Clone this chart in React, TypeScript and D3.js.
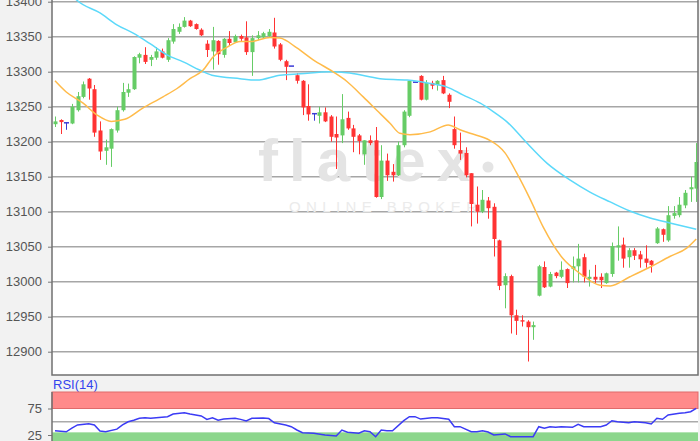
import { useRef, useEffect } from "react";
import * as d3 from "d3";

// open, high, low, close
type Candle = [number, number, number, number];

const candles: Candle[] = [
  [13225, 13236, 13221, 13229], [13231, 13232, 13211, 13228], [13227, 13227, 13217, 13227],
  [13226, 13254, 13225, 13250], [13245, 13271, 13243, 13265], [13264, 13286, 13262, 13282],
  [13290, 13291, 13260, 13276], [13275, 13281, 13207, 13213], [13216, 13229, 13174, 13186],
  [13187, 13203, 13167, 13192], [13190, 13219, 13164, 13218], [13216, 13250, 13213, 13245],
  [13245, 13284, 13243, 13271], [13270, 13283, 13264, 13275], [13275, 13322, 13274, 13321],
  [13320, 13327, 13312, 13325], [13324, 13335, 13311, 13314], [13317, 13324, 13308, 13321],
  [13320, 13335, 13317, 13329], [13329, 13333, 13319, 13320], [13317, 13348, 13314, 13345],
  [13343, 13368, 13340, 13361], [13357, 13369, 13354, 13364], [13364, 13378, 13363, 13373],
  [13373, 13374, 13364, 13365], [13368, 13369, 13360, 13361], [13360, 13362, 13351, 13352],
  [13340, 13345, 13321, 13331], [13329, 13364, 13303, 13345], [13344, 13345, 13310, 13325],
  [13324, 13348, 13320, 13347], [13347, 13358, 13338, 13341], [13342, 13353, 13341, 13351],
  [13351, 13353, 13344, 13347], [13349, 13372, 13324, 13328], [13328, 13352, 13294, 13348],
  [13348, 13358, 13345, 13352], [13349, 13357, 13347, 13355], [13351, 13361, 13349, 13357],
  [13356, 13377, 13333, 13336], [13339, 13341, 13315, 13317], [13315, 13317, 13288, 13307],
  [13308, 13308, 13308, 13308], [13295, 13298, 13283, 13287], [13287, 13288, 13238, 13249],
  [13251, 13282, 13230, 13239], [13240, 13240, 13230, 13240], [13237, 13250, 13226, 13242],
  [13242, 13249, 13228, 13229], [13236, 13238, 13200, 13207], [13211, 13236, 13161, 13206],
  [13209, 13268, 13198, 13232], [13234, 13243, 13217, 13219], [13219, 13224, 13185, 13207],
  [13209, 13211, 13182, 13201], [13182, 13202, 13167, 13202], [13202, 13209, 13195, 13198],
  [13202, 13221, 13120, 13121], [13121, 13195, 13118, 13173], [13173, 13183, 13144, 13152],
  [13157, 13168, 13143, 13152], [13152, 13200, 13151, 13195], [13195, 13245, 13192, 13243],
  [13237, 13288, 13235, 13287], [13285, 13285, 13285, 13285], [13294, 13295, 13259, 13260],
  [13260, 13288, 13259, 13284], [13284, 13287, 13275, 13280], [13281, 13288, 13273, 13287],
  [13288, 13294, 13268, 13269], [13267, 13269, 13248, 13257], [13218, 13236, 13190, 13195],
  [13188, 13213, 13174, 13183], [13184, 13192, 13149, 13152], [13155, 13155, 13079, 13111],
  [13110, 13136, 13083, 13100], [13100, 13131, 13098, 13117], [13116, 13121, 13090, 13105],
  [13107, 13112, 13036, 13061], [13059, 13060, 12988, 12994], [12995, 13012, 12962, 13008],
  [13008, 13010, 12926, 12952], [12952, 12960, 12924, 12944], [12945, 12952, 12936, 12943],
  [12943, 12945, 12886, 12935], [12935, 12943, 12917, 12938], [12980, 13024, 12979, 13022],
  [13021, 13029, 12991, 12992], [12993, 13014, 12992, 13011], [13013, 13014, 13005, 13008],
  [13007, 13029, 13005, 13017], [13018, 13019, 12991, 12998], [13018, 13036, 12999, 13022],
  [13022, 13054, 12999, 13033], [13035, 13040, 12999, 13007], [13004, 13017, 12993, 13007],
  [13007, 13024, 12998, 13003], [13007, 13012, 12991, 13002], [12998, 13013, 12997, 13012],
  [13011, 13056, 13007, 13051], [13049, 13079, 13030, 13052], [13053, 13063, 13020, 13033],
  [13035, 13048, 13020, 13045], [13045, 13048, 13031, 13037], [13039, 13044, 13020, 13032],
  [13033, 13052, 13020, 13027], [13030, 13031, 13013, 13024], [13055, 13078, 13054, 13076],
  [13075, 13076, 13057, 13067], [13059, 13108, 13057, 13095], [13094, 13108, 13090, 13098],
  [13095, 13121, 13092, 13110], [13109, 13131, 13105, 13127], [13132, 13150, 13114, 13135],
  [13133, 13198, 13114, 13171],
];

// [candle index, value]
const maShort: [number, number][] = [
  [0, 13287], [2, 13271], [5, 13255], [7.5, 13238], [10, 13229], [12.4, 13232], [15.6, 13248],
  [19.2, 13264], [21.7, 13276], [24, 13290], [26.3, 13302], [28.1, 13321], [30.6, 13335],
  [32.9, 13343], [34.7, 13343], [38.2, 13349], [40, 13348], [43, 13334], [45.9, 13317],
  [49.4, 13300], [51.9, 13286], [54.8, 13264], [57.2, 13245], [59.6, 13226], [61.3, 13212],
  [63.1, 13210], [66.7, 13214], [69.9, 13224], [72, 13217], [73.8, 13212], [77.3, 13202],
  [80, 13184], [82.1, 13155], [84.4, 13119], [86.8, 13078], [90.3, 13033], [93.3, 13012],
  [96.9, 12995], [98.7, 12994], [102.2, 13007], [105.8, 13021], [109.3, 13036], [112.3, 13048],
  [114, 13061],
];

const maLong: [number, number][] = [
  [2.5, 13414], [3.9, 13402], [8, 13384], [11, 13367], [13.9, 13355], [16.9, 13340],
  [19.9, 13324], [22.8, 13314], [25.8, 13302], [27.9, 13295], [32.9, 13290], [35.9, 13288],
  [40, 13295], [43.6, 13297], [48.9, 13300], [52.4, 13298], [57.8, 13290], [62.6, 13288],
  [66.7, 13283], [69.7, 13278], [72.5, 13267], [75.6, 13255], [77.9, 13243], [80.4, 13228],
  [83.9, 13198], [87.5, 13169], [91.6, 13145], [95.1, 13128], [98.7, 13114], [102.2, 13101],
  [105.8, 13091], [109.3, 13084], [114, 13075],
];

const rsi: [number, number][] = [
  [0, 33], [2, 31], [3, 38], [4, 44], [6, 46], [7, 44], [8, 32.5], [9, 31], [11, 36],
  [12, 44], [13, 50], [14, 53], [15, 56.5], [16, 57.5], [17, 56.5], [19, 58.5], [20, 59.5],
  [21, 64.5], [23, 67], [24, 64.5], [26, 61], [27, 54.5], [28, 57.5], [29, 53], [30, 55],
  [32, 56.5], [33, 54.5], [34, 51.5], [35, 56.5], [37, 57], [38, 56], [39, 48], [41, 44],
  [42, 40.7], [43, 34.4], [44, 29.4], [46, 28.2], [48, 25], [50, 23], [51, 34.4], [52, 30.1],
  [54, 28.2], [55, 33], [56, 31.3], [57, 21.8], [58, 34.4], [59, 33.1], [60, 33], [62, 52],
  [63, 59.6], [64, 59.6], [65, 55], [67, 57.6], [68, 57.6], [70, 54.6], [71, 40.7], [72, 40.7],
  [74, 31.3], [75, 31], [76, 33], [77, 30.7], [78, 25], [80, 27], [81, 21.8], [83, 21.8],
  [85, 21.8], [86, 40.7], [87, 37.6], [88, 40.7], [89, 39.5], [90, 40.7], [92, 39.5],
  [93, 45.2], [94, 40.7], [95, 40.5], [96, 40.7], [97, 40.7], [98, 43.9], [99, 52], [100, 50],
  [102, 48.2], [103, 50], [105, 48.2], [106, 45.8], [107, 56.5], [108, 54.6], [109, 62.7],
  [111, 65.9], [112, 67.1], [113, 69], [114, 75.4],
];

const yTicks = [12900, 12950, 13000, 13050, 13100, 13150, 13200, 13250, 13300, 13350, 13400];
const rsiTicks = [25, 75];
const rsiOverbought = 75;
const rsiOversold = 30;
const rsiMid = 50;

export default function App() {
  const svgRef = useRef<SVGSVGElement>(null);

  useEffect(() => {
    const svg = d3.select(svgRef.current);
    const width = 700;
    const height = 441;
    const left = 52;
    const right = 698;
    const plotBottom = 375;
    const rsiTop = 392;
    const font = "'Liberation Sans', Arial, sans-serif";

    svg.selectAll("*").remove();
    svg.attr("width", width).attr("height", height);

    // Escalas
    const x = d3.scaleLinear().domain([0, candles.length - 1]).range([55, 696.25]);
    const y = d3.scaleLinear().domain([12900, 13400]).range([351.7, 1.7]);
    const ry = d3.scaleLinear().domain([25, 75]).range([435, 408.5]);

    svg.append("rect").attr("width", width).attr("height", height).attr("fill", "#f2f2f2");

    // Panel principal
    svg.append("rect")
      .attr("x", left).attr("y", 0)
      .attr("width", right - left).attr("height", plotBottom)
      .attr("fill", "#ffffff");

    svg.append("clipPath").attr("id", "plotClip")
      .append("rect")
      .attr("x", left).attr("y", 0)
      .attr("width", right - left).attr("height", plotBottom);

    // Cuadrícula
    svg.append("g")
      .selectAll("line")
      .data(yTicks)
      .join("line")
      .attr("x1", left).attr("x2", right)
      .attr("y1", (d) => y(d)).attr("y2", (d) => y(d))
      .attr("stroke", "#a6a6a6")
      .attr("stroke-width", 1.5);

    // Marca de agua
    const wm = svg.append("g").attr("pointer-events", "none");
    wm.append("text")
      .attr("x", 258).attr("y", 181)
      .attr("textLength", 212)
      .attr("lengthAdjust", "spacing")
      .attr("font-family", font)
      .attr("font-weight", "bold")
      .attr("font-size", 60)
      .attr("fill", "#e4e4e4")
      .text("flatex");
    wm.append("circle").attr("cx", 488).attr("cy", 167).attr("r", 5.5).attr("fill", "#e4e4e4");
    wm.append("text")
      .attr("x", 289).attr("y", 212)
      .attr("textLength", 188)
      .attr("lengthAdjust", "spacing")
      .attr("font-family", font)
      .attr("font-size", 15)
      .attr("fill", "#ebebeb")
      .text("ONLINE BROKER");

    const plot = svg.append("g").attr("clip-path", "url(#plotClip)");

    // Velas
    candles.forEach(([o, h, l, c], i) => {
      const cx = Math.round(x(i));
      const color = c > o ? "#66cc66" : c < o ? "#ff3333" : "#3a3ad6";
      plot.append("line")
        .attr("x1", cx + 0.5).attr("x2", cx + 0.5)
        .attr("y1", y(h)).attr("y2", y(l))
        .attr("stroke", color)
        .attr("stroke-width", 1);
      if (c === o) {
        plot.append("line")
          .attr("x1", cx - 2).attr("x2", cx + 3)
          .attr("y1", y(o)).attr("y2", y(o))
          .attr("stroke", color)
          .attr("stroke-width", 1.5);
      } else {
        const top = y(Math.max(o, c));
        plot.append("rect")
          .attr("x", cx - 1.5).attr("y", top)
          .attr("width", 4)
          .attr("height", Math.max(1, y(Math.min(o, c)) - top))
          .attr("fill", color);
      }
    });

    // Medias móviles
    const line = d3.line<[number, number]>()
      .x((d) => x(d[0]))
      .y((d) => y(d[1]))
      .curve(d3.curveMonotoneX);

    plot.append("path").datum(maLong)
      .attr("d", line).attr("fill", "none")
      .attr("stroke", "#5cd9fa").attr("stroke-width", 1.5);
    plot.append("path").datum(maShort)
      .attr("d", line).attr("fill", "none")
      .attr("stroke", "#ffbb4a").attr("stroke-width", 1.5);

    // Eje Y
    const yAxis = svg.append("g")
      .attr("transform", `translate(${left},0)`)
      .call(d3.axisLeft(y).tickValues(yTicks).tickSize(4).tickPadding(6).tickFormat(d3.format("d")));
    yAxis.select(".domain").remove();
    yAxis.selectAll("line").attr("stroke", "#777");
    yAxis.selectAll("text")
      .attr("font-family", font).attr("font-size", 13).attr("fill", "#555");

    // Borde
    svg.append("path")
      .attr("d", `M${left},0V${plotBottom}H${right}V0`)
      .attr("fill", "none")
      .attr("stroke", "#707070")
      .attr("stroke-width", 1.5);

    // Panel RSI
    svg.append("text")
      .attr("x", 53).attr("y", 389)
      .attr("font-family", font).attr("font-size", 13)
      .attr("fill", "#3344ee")
      .text("RSI(14)");

    svg.append("rect")
      .attr("x", left).attr("y", rsiTop)
      .attr("width", right - left).attr("height", height - rsiTop)
      .attr("fill", "#ffffff");
    svg.append("rect")
      .attr("x", left).attr("y", rsiTop)
      .attr("width", right - left).attr("height", ry(rsiOverbought) - rsiTop)
      .attr("fill", "#ff8a8a")
      .attr("stroke", "#e06a6a")
      .attr("stroke-width", 1);
    svg.append("rect")
      .attr("x", left).attr("y", ry(rsiOversold))
      .attr("width", right - left).attr("height", height - ry(rsiOversold))
      .attr("fill", "#8cd68c");
    svg.append("line")
      .attr("x1", left).attr("x2", right)
      .attr("y1", ry(rsiMid)).attr("y2", ry(rsiMid))
      .attr("stroke", "#aaaaaa").attr("stroke-width", 1.5);

    const rsiLine = d3.line<[number, number]>()
      .x((d) => x(d[0]))
      .y((d) => ry(d[1]));
    svg.append("path").datum(rsi)
      .attr("d", rsiLine).attr("fill", "none")
      .attr("stroke", "#3b3bf5").attr("stroke-width", 1.5);

    const rAxis = svg.append("g")
      .attr("transform", `translate(${left},0)`)
      .call(d3.axisLeft(ry).tickValues(rsiTicks).tickSize(4).tickPadding(6));
    rAxis.select(".domain").remove();
    rAxis.selectAll("line").attr("stroke", "#777");
    rAxis.selectAll("text")
      .attr("font-family", font).attr("font-size", 13).attr("fill", "#555");

    svg.append("line")
      .attr("x1", left).attr("x2", left)
      .attr("y1", rsiTop).attr("y2", height)
      .attr("stroke", "#707070").attr("stroke-width", 1.5);
  }, []);

  return <svg ref={svgRef} style={{ position: "absolute", left: 0, top: 0, display: "block" }}></svg>;
}
